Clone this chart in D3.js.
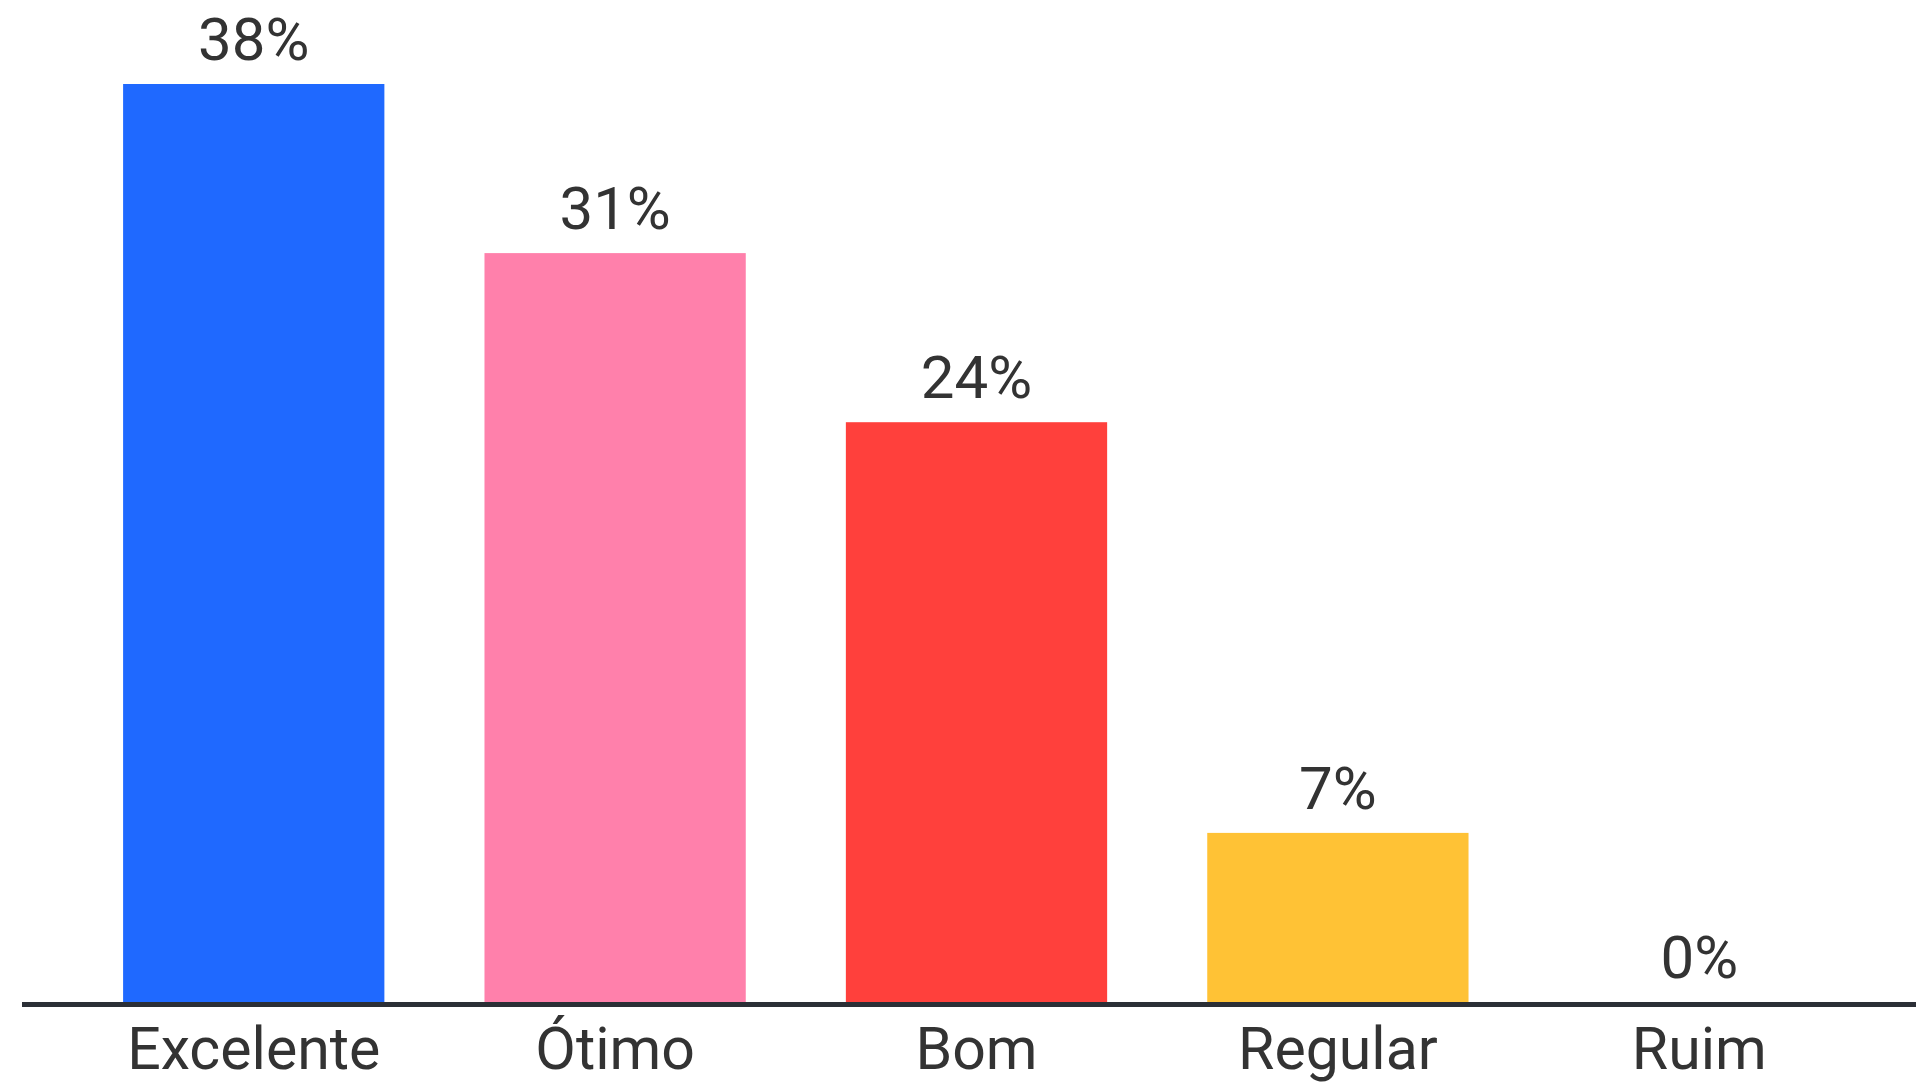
<!DOCTYPE html>
<html>
<head>
<meta charset="utf-8">
<script src="https://cdn.jsdelivr.net/npm/d3@7"></script>
<style>
  html, body { margin: 0; padding: 0; background: #ffffff; }
  svg { display: block; }
</style>
</head>
<body>
<svg id="chart" width="1916" height="1082"></svg>
<script>
const categories = ["Excelente", "Ótimo", "Bom", "Regular", "Ruim"];
const values = [38, 31, 24, 7, 0];
const colors = ["#1f69ff", "#ff80ab", "#ff403c", "#ffc235", "#cccccc"];

const W = 1916, H = 1082;
const svg = d3.select("#chart");

const x = d3.scaleBand()
  .domain(categories)
  .range([23, 1930])
  .paddingInner(0.277)
  .paddingOuter(0.277);

const y = d3.scaleLinear()
  .domain([0, 38])
  .range([1002, 84]);

const font = "Roboto, 'Noto Sans', sans-serif";

svg.selectAll("rect.bar")
  .data(categories)
  .join("rect")
  .attr("class", "bar")
  .attr("x", d => x(d))
  .attr("width", x.bandwidth())
  .attr("y", (d, i) => y(values[i]))
  .attr("height", (d, i) => y(0) - y(values[i]))
  .attr("fill", (d, i) => colors[i]);

svg.selectAll("text.val")
  .data(categories)
  .join("text")
  .attr("class", "val")
  .attr("x", d => x(d) + x.bandwidth() / 2)
  .attr("y", (d, i) => y(values[i]) - 24)
  .attr("text-anchor", "middle")
  .attr("font-family", font)
  .attr("font-size", 60)
  .attr("fill", "#333333")
  .text((d, i) => values[i] + "%");

// category axis
const axis = d3.axisBottom(x).tickSize(0).tickPadding(0);
const gAxis = svg.append("g")
  .attr("transform", `translate(0, ${y(0) + 3})`)
  .call(axis);
gAxis.select(".domain").remove();
gAxis.selectAll("text")
  .attr("font-family", font)
  .attr("font-size", 59)
  .attr("fill", "#333333")
  .attr("dy", null)
  .attr("y", 64);

svg.append("line")
  .attr("x1", 22).attr("x2", W)
  .attr("y1", y(0) + 2.5).attr("y2", y(0) + 2.5)
  .attr("stroke", "#2b2f36")
  .attr("stroke-width", 5);
</script>
</body>
</html>
